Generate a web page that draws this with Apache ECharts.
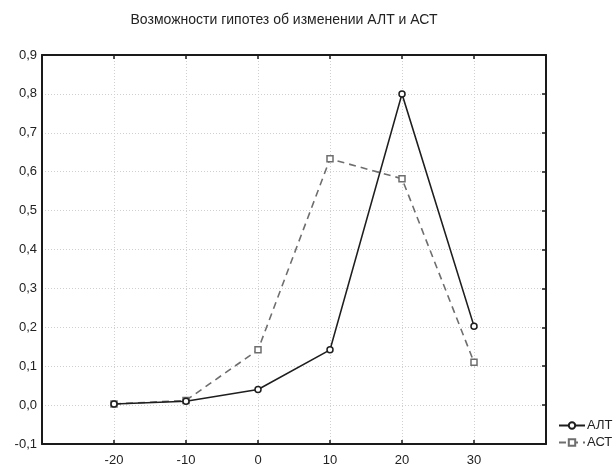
<!DOCTYPE html>
<html>
<head>
<meta charset="utf-8">
<script src="https://cdn.jsdelivr.net/npm/echarts@6/dist/echarts.min.js"></script>
<style>
  html, body { margin: 0; padding: 0; background: #fff; }
  #chart { width: 616px; height: 472px; }
</style>
</head>
<body>
<div id="chart"></div>
<script>
// Days relative to the event
var days = [-20, -10, 0, 10, 20, 30];
// Hypothesis possibilities for each enzyme
var altValues = [0.003, 0.010, 0.040, 0.142, 0.800, 0.203];
var astValues = [0.003, 0.012, 0.142, 0.633, 0.582, 0.110];
var seriesNames = ['АЛТ', 'АСТ'];
var titleText = 'Возможности гипотез об изменении АЛТ и АСТ';

function pairs(xs, ys) {
  return xs.map(function (x, i) { return [x, ys[i]]; });
}

var font = 'Liberation Sans, Arial, sans-serif';
var frame = { show: true, onZero: false, lineStyle: { color: '#1a1a1a', width: 2 } };
var gridLine = { show: true, lineStyle: { color: '#d0d0d0', type: [1, 2], width: 1 } };
var innerTick = { show: true, inside: true, length: 4, lineStyle: { color: '#1a1a1a', width: 1.5 } };

var chart = echarts.init(document.getElementById('chart'), null, { renderer: 'canvas' });
chart.setOption({
  animation: false,
  backgroundColor: '#ffffff',
  title: {
    text: titleText,
    left: 279, top: 8, textAlign: 'center',
    textStyle: { fontFamily: font, fontSize: 14, fontWeight: 'normal', color: '#222' }
  },
  legend: {
    orient: 'vertical',
    left: 553, top: 414,
    itemWidth: 26, itemHeight: 8, itemGap: 4,
    textStyle: { fontFamily: font, fontSize: 13, color: '#222', padding: [0, 0, 0, -3] },
    data: seriesNames
  },
  grid: { left: 42, right: 70, top: 55, bottom: 28 },
  xAxis: [{
    type: 'value', min: -30, max: 40, interval: 10,
    axisLine: frame, axisTick: innerTick, splitLine: gridLine,
    axisLabel: {
      fontFamily: font, fontSize: 13, color: '#222', margin: 10,
      formatter: function (v) { return (v <= -30 || v >= 40) ? '' : String(v); }
    }
  }, {
    type: 'value', position: 'top', min: -30, max: 40, interval: 10,
    axisLine: frame, axisTick: innerTick, splitLine: { show: false }, axisLabel: { show: false }
  }],
  yAxis: [{
    type: 'value', min: -0.1, max: 0.9, interval: 0.1,
    axisLine: frame, axisTick: { show: false }, splitLine: gridLine,
    axisLabel: {
      fontFamily: font, fontSize: 13, color: '#222', margin: 5,
      formatter: function (v) { return (Math.round(v * 10) / 10).toFixed(1).replace('.', ','); }
    }
  }, {
    type: 'value', position: 'right', min: -0.1, max: 0.9, interval: 0.1,
    axisLine: frame, axisTick: innerTick, splitLine: { show: false }, axisLabel: { show: false }
  }],
  series: [{
    name: seriesNames[0], type: 'line',
    data: pairs(days, altValues),
    symbol: 'circle', symbolSize: 6,
    itemStyle: { color: '#ffffff', borderColor: '#1e1e1e', borderWidth: 1.5 },
    lineStyle: { color: '#1e1e1e', width: 1.6 },
    z: 3
  }, {
    name: seriesNames[1], type: 'line',
    data: pairs(days, astValues),
    symbol: 'rect', symbolSize: 6,
    itemStyle: { color: '#ffffff', borderColor: '#6e6e6e', borderWidth: 1.5 },
    lineStyle: { color: '#6e6e6e', width: 1.6, type: [7, 5] },
    z: 2
  }]
});
</script>
</body>
</html>
